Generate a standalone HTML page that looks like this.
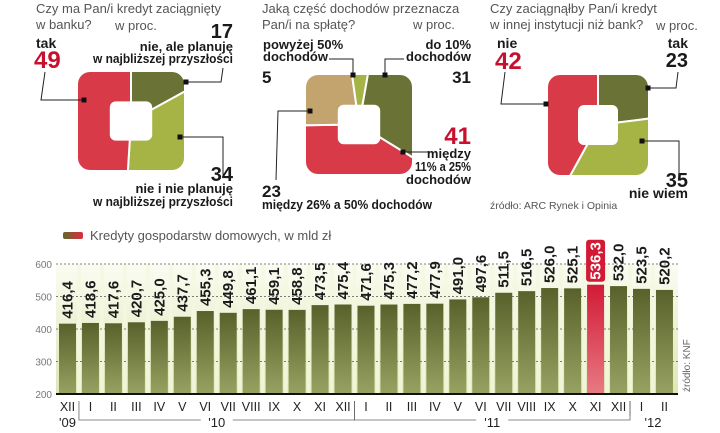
<!DOCTYPE html>
<html><head><meta charset="utf-8">
<style>
html,body{margin:0;padding:0;background:#fff;width:720px;height:433px;overflow:hidden}
svg{display:block;font-family:"Liberation Sans",sans-serif}
.q{fill:#555;font-size:13px}
.b{fill:#1a1a1a;font-size:13px;font-weight:bold;font-family:"Liberation Sans Narrow","Liberation Sans",sans-serif}
.n{fill:#1a1a1a;font-size:20px;font-weight:bold;font-family:"Liberation Sans Narrow","Liberation Sans",sans-serif}
.r{fill:#c8102e}
</style></head><body>
<svg id="s" width="720" height="433" viewBox="0 0 720 433">
<defs>
<linearGradient id="bg" x1="0" y1="0" x2="0" y2="1"><stop offset="0" stop-color="#fbfcf2"/><stop offset="1" stop-color="#dfe6b4"/></linearGradient>
<linearGradient id="bar" x1="0" y1="0" x2="0" y2="1"><stop offset="0" stop-color="#58612a"/><stop offset="1" stop-color="#97a262"/></linearGradient>
<linearGradient id="rbar" x1="0" y1="0" x2="0" y2="1"><stop offset="0" stop-color="#d21a36"/><stop offset="1" stop-color="#e87a84"/></linearGradient>
<linearGradient id="leg" x1="0" y1="0" x2="1" y2="0"><stop offset="0" stop-color="#5e6a2e"/><stop offset="1" stop-color="#e02a40"/></linearGradient>
</defs>

<g>
<text class="q" x="36" y="13">Czy ma Pan/i kredyt zaciągnięty</text>
<text class="q" x="36" y="29">w banku?</text>
<text class="q" x="115" y="30">w proc.</text>
<text class="b" x="36" y="48" style="font-size:14px">tak</text>
<text class="n r" x="34" y="68" style="font-size:24px">49</text>
<text class="n" x="233" y="38" text-anchor="end">17</text>
<text class="b" x="233" y="51" text-anchor="end">nie, ale planuję</text>
<text class="b" x="233" y="63" text-anchor="end" textLength="140" lengthAdjust="spacingAndGlyphs">w najbliższej przyszłości</text>
<text class="n" x="233" y="181" text-anchor="end">34</text>
<text class="b" x="233" y="193" text-anchor="end">nie i nie planuję</text>
<text class="b" x="233" y="206" text-anchor="end" textLength="140" lengthAdjust="spacingAndGlyphs">w najbliższej przyszłości</text>
<g id="d1"></g>
<polyline points="45,72 41,100 84,100" fill="none" stroke="#222"/>
<polyline points="223,68 221,82 186,82" fill="none" stroke="#222"/>
<polyline points="223,175 223,137 180,137" fill="none" stroke="#222"/>
</g>

<g>
<text class="q" x="262" y="13">Jaką część dochodów przeznacza</text>
<text class="q" x="262" y="29">Pan/i na spłatę?</text>
<text class="q" x="413" y="29">w proc.</text>
<text class="b" x="263" y="49">powyżej 50%</text>
<text class="b" x="263" y="61">dochodów</text>
<text class="n" x="262" y="83" style="font-size:17px">5</text>
<text class="b" x="471" y="49" text-anchor="end">do 10%</text>
<text class="b" x="471" y="61" text-anchor="end">dochodów</text>
<text class="n" x="471" y="83" text-anchor="end" style="font-size:17px">31</text>
<text class="n r" x="471" y="144" text-anchor="end" style="font-size:24px">41</text>
<text class="b" x="471" y="158" text-anchor="end">między</text>
<text class="b" x="471" y="171" text-anchor="end" textLength="56" lengthAdjust="spacingAndGlyphs">11% a 25%</text>
<text class="b" x="471" y="184" text-anchor="end">dochodów</text>
<text class="n" x="262" y="197" style="font-size:17px">23</text>
<text class="b" x="262" y="209" textLength="170" lengthAdjust="spacingAndGlyphs">między 26% a 50% dochodów</text>
<g id="d2"></g>
<polyline points="329,59 353,59 353,75" fill="none" stroke="#222"/>
<polyline points="404,59 385,59 385,75" fill="none" stroke="#222"/>
<polyline points="276,180 278,111 310,111" fill="none" stroke="#222"/>
<polyline points="403,152 430,152" fill="none" stroke="#222"/>
</g>

<g>
<text class="q" x="490" y="13">Czy zaciągnąłby Pan/i kredyt</text>
<text class="q" x="490" y="29">w innej instytucji niż bank?</text>
<text class="q" x="656" y="30">w proc.</text>
<text class="b" x="497" y="48" style="font-size:14px">nie</text>
<text class="n r" x="495" y="69" style="font-size:24px">42</text>
<text class="b" x="688" y="48" text-anchor="end" style="font-size:14px">tak</text>
<text class="n" x="688" y="67" text-anchor="end">23</text>
<text class="n" x="688" y="187" text-anchor="end">35</text>
<text class="b" x="688" y="198" text-anchor="end" style="font-size:14px">nie wiem</text>
<text class="q" x="490" y="209" style="font-size:10.5px">źródło: ARC Rynek i Opinia</text>
<g id="d3"></g>
<polyline points="505,72 501,104 546,104" fill="none" stroke="#222"/>
<polyline points="678,72 676,88 648,88" fill="none" stroke="#222"/>
<polyline points="679,175 679,141 642,141" fill="none" stroke="#222"/>
</g>

<g>
<rect x="63" y="232" width="20" height="7" rx="2" fill="url(#leg)"/>
<text class="q" x="90" y="240" style="font-size:13px">Kredyty gospodarstw domowych, w mld zł</text>
</g>
<rect x="56" y="264" width="622" height="130" fill="url(#bg)"/>
<g id="chart"></g>
<text x="690" y="392" transform="rotate(-90 690 392)" style="font-size:10px;fill:#666">źródło: KNF</text>
</svg>
<script>
const NS="http://www.w3.org/2000/svg";
const months=["XII","I","II","III","IV","V","VI","VII","VIII","IX","X","XI","XII","I","II","III","IV","V","VI","VII","VIII","IX","X","XI","XII","I","II"];
const values=[416.4,418.6,417.6,420.7,425.0,437.7,455.3,449.8,461.1,459.1,458.8,473.5,475.4,471.6,475.3,477.2,477.9,491.0,497.6,511.5,516.5,526.0,525.1,536.3,532.0,523.5,520.2];
const yTicks=[200,300,400,500,600];
const highlightIndex=23;
const donut1=[17,34,49];
const donut2=[31,41,23,5];
const donut3=[23,35,42];

function el(t,a,p){const e=document.createElementNS(NS,t);for(const k in a)e.setAttribute(k,a[k]);(p||document.getElementById('chart')).appendChild(e);return e;}
const x0=59,pitch=22.96,bw=17,yBase=394,yTop=264;
const yS=v=>yBase-(v-200)/(600-200)*(yBase-yTop);
const xS=i=>x0+i*pitch;
const ch=document.getElementById('chart');
for(let i=0;i<months.length-1;i++){
  const s=el('rect',{x:xS(i)+bw+1,y:yTop,width:pitch-bw-2,height:yBase-yTop,fill:'#f4f7e0',opacity:0.8},ch);
  
  
}
yTicks.forEach(t=>{
  const y=yS(t);
  if(t>200){const l=el('line',{x1:56,x2:678,y1:y,y2:y,stroke:'#555','stroke-dasharray':'2,2','stroke-width':0.8},ch);
  
  }
  const tx=el('text',{x:52,y:y+4,'text-anchor':'end',style:'font-size:10px;fill:#777'},ch);tx.textContent=t;
  
  
});
values.forEach((v,i)=>{
  const x=xS(i),y=yS(v),hi=i===highlightIndex;
  const r=el('rect',{x:x,y:y,width:bw,height:yBase-y,fill:hi?'url(#rbar)':'url(#bar)'},ch);
  
  
  const lbl=v.toFixed(1).replace('.',',');
  if(hi){const bx=el('rect',{x:x-1,y:y-45,width:bw+2,height:42,rx:3,fill:'#d21a36'},ch);
    
    }
  const t=el('text',{x:0,y:0,transform:`translate(${x+bw/2+5},${y-5}) rotate(-90)`,style:`font-size:15px;font-weight:bold;font-family:"Liberation Sans Narrow","Liberation Sans",sans-serif;fill:${hi?'#fff':'#1a1a1a'}`},ch);
  t.textContent=lbl;
  
  
  const m=el('text',{x:x+bw/2,y:411,'text-anchor':'middle',style:'font-size:12.5px;fill:#222'},ch);m.textContent=months[i];
  
  
});
el('line',{x1:56,x2:678,y1:yBase,y2:yBase,stroke:'#111','stroke-width':2},ch);
function bracket(a,b,label,lx){
  const p=el('path',{d:`M${a},401 V420 H${lx-16} M${lx+16},420 H${b} V401`,fill:'none',stroke:'#666','stroke-width':0.8},ch);
  
  
  const t=el('text',{x:lx,y:427,'text-anchor':'middle',style:'font-size:13px;fill:#222'},ch);t.textContent=label;
  
  
}
const yl=el('text',{x:xS(0)+bw/2,y:427,'text-anchor':'middle',style:'font-size:13px;fill:#222'},ch);yl.textContent="'09";


bracket(xS(1)-3,xS(12)+bw+3,"'10",(xS(1)+xS(12)+bw)/2);
bracket(xS(13)-3,xS(24)+bw+3,"'11",(xS(13)+xS(24)+bw)/2);
const y12=el('text',{x:(xS(25)+xS(26)+bw)/2,y:427,'text-anchor':'middle',style:'font-size:13px;fill:#222'},ch);y12.textContent="'12";


el('line',{x1:xS(25)-3,x2:xS(25)-3,y1:401,y2:416,stroke:'#666','stroke-width':0.8},ch);

let cid=0;
function donut(gid,vals,colors,box,startDeg){
  const g=document.getElementById(gid);
  const [x,y,w,h]=box,cx=x+w/2,cy=y+h/2;
  const id='clip'+(cid++);
  const defs=el('clipPath',{id:id},g);
  el('rect',{x:x,y:y,width:w,height:h,rx:12},defs);
  const sg=el('g',{'clip-path':`url(#${id})`},g);
  const tot=vals.reduce((a,b)=>a+b,0);let a=startDeg;const R=120;
  vals.forEach((v,i)=>{
    const a2=a+v/tot*360;
    const p=(d)=>{const r=(d-90)*Math.PI/180;return [cx+R*Math.cos(r),cy+R*Math.sin(r)];};
    const [x1,y1]=p(a),[x2,y2]=p(a2);
    const s=el('path',{d:`M${cx},${cy} L${x1},${y1} A${R},${R} 0 ${a2-a>180?1:0} 1 ${x2},${y2} Z`,fill:colors[i],stroke:'#fff','stroke-width':2},sg);
    
    
    a=a2;
  });
  el('rect',{x:cx-w*0.2,y:cy-h*0.2,width:w*0.4,height:h*0.4,rx:6,fill:'#fff'},g);
}
const OL='#6a7236',LG='#a6b445',RD='#d83a48',TN='#c4a46e';
donut('d1',donut1,[OL,LG,RD],[78,72,106,98],0);
donut('d2',donut2,[OL,RD,TN,LG],[306,75,106,99],10);
donut('d3',donut3,[OL,LG,RD],[548,75,100,100],0);
[[84,100],[186,82],[180,137],[353,75],[385,75],[310,111],[403,152],[546,104],[648,88],[642,141]].forEach(([x,y])=>{
  const d=el('rect',{x:x-2.5,y:y-2.5,width:5,height:5,fill:'#111'},document.getElementById('s'));
  
  
});
</script>
</body></html>
